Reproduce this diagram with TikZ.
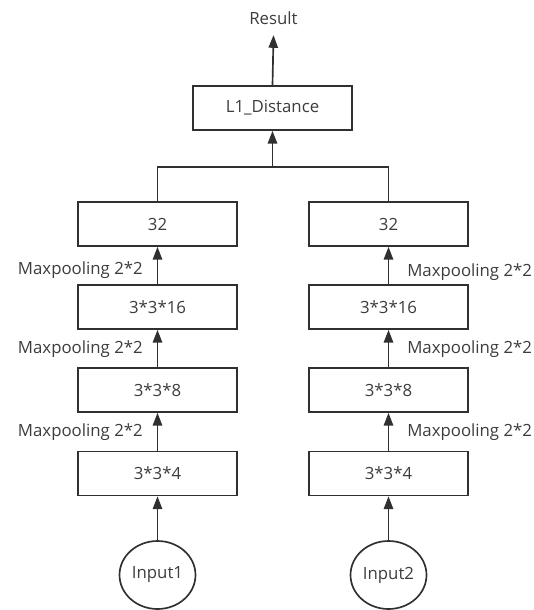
\documentclass[tikz,border=0pt]{standalone}
\usepackage{fontspec}
\setmainfont{Open Sans}
\usetikzlibrary{shapes.geometric,arrows.meta}
\definecolor{ink}{HTML}{303030}
\definecolor{txt}{HTML}{3C3C3C}
\begin{document}
\begin{tikzpicture}[x=0.75pt,y=-0.75pt,
  font=\fontsize{12.6}{14}\selectfont,
  layer/.style={draw=ink,line width=1.25pt,minimum width=119.25pt,minimum height=33pt,inner sep=0pt,text=txt},
  inp/.style={draw=ink,line width=1.25pt,ellipse,minimum width=57pt,minimum height=51pt,inner sep=0pt,text=txt},
  conn/.style={draw=ink,line width=1.25pt},
  arr/.style={conn,-{Triangle[length=9.5pt,width=7pt]}},
  lbl/.style={text=txt,inner sep=0pt}]
\useasboundingbox (0,0) rectangle (533,610);
% top
\node[lbl,outer ysep=8pt] (res) at (273.5,18) {Result};
\node[layer] (l1) at (272.5,108) {L1\_Distance};
\coordinate (merge) at (272.5,167);
% left column
\node[layer] (a32) at (157.5,224) {32};
\node[layer] (a16) at (157.5,307) {3*3*16};
\node[layer] (a8) at (157.5,390) {3*3*8};
\node[layer] (a4) at (157.5,473.5) {3*3*4};
\node[inp] (in1) at (157.5,575) {Input1};
% right column
\node[layer] (b32) at (388.5,224) {32};
\node[layer] (b16) at (388.5,307) {3*3*16};
\node[layer] (b8) at (388.5,390) {3*3*8};
\node[layer] (b4) at (388.5,473.5) {3*3*4};
\node[inp] (in2) at (388.5,575) {Input2};
% labels
\node[lbl,anchor=east] (la1) at (143,270) {Maxpooling 2*2};
\node[lbl,anchor=east] (la2) at (143,349) {Maxpooling 2*2};
\node[lbl,anchor=east] (la3) at (143,432) {Maxpooling 2*2};
\node[lbl,anchor=west] (lb1) at (407,272) {Maxpooling 2*2};
\node[lbl,anchor=west] (lb2) at (407,349) {Maxpooling 2*2};
\node[lbl,anchor=west] (lb3) at (407,432) {Maxpooling 2*2};
% connectors
\draw[arr] (l1.north) -- (res.south);
\draw[arr] (merge) -- (l1.south);
\draw[conn] (a32.north) |- (merge) -| (b32.north);
\draw[arr] (a16.north) -- (a32.south);
\draw[arr] (a8.north) -- (a16.south);
\draw[arr] (a4.north) -- (a8.south);
\draw[arr] (in1.north) -- (a4.south);
\draw[arr] (b16.north) -- (b32.south);
\draw[arr] (b8.north) -- (b16.south);
\draw[arr] (b4.north) -- (b8.south);
\draw[arr] (in2.north) -- (b4.south);
\end{tikzpicture}
\end{document}
